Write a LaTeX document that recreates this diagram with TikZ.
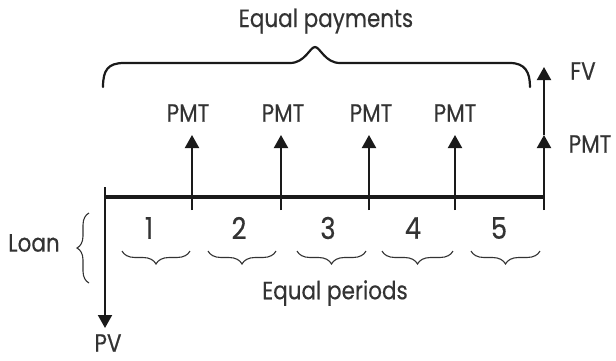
\documentclass[tikz,border=0pt]{standalone}
\usepackage{fontspec}
\setmainfont{Poppins}[FakeStretch=0.86,FakeBold=0.4]
\usetikzlibrary{arrows.meta,decorations.pathreplacing}
\definecolor{ink}{HTML}{1A1A1A}
\definecolor{txt}{HTML}{333333}
\begin{document}
\begin{tikzpicture}[x=1pt,y=-1pt,
  axisline/.style={line width=3.4pt, draw=ink},
  flow/.style={line width=2pt, draw=ink, -{Triangle[length=13pt,width=14pt]}},
  lbl/.style={font=\fontsize{25}{28}\selectfont, text=txt, inner sep=0pt},
  num/.style={font=\fontsize{30}{34}\selectfont, text=txt, inner sep=0pt},
  sbrace/.style={decorate, decoration={brace, amplitude=13pt, mirror}, line width=1.1pt, draw=txt},
  lbrace/.style={decorate, decoration={brace, amplitude=12pt}, line width=1.1pt, draw=txt},
  bigbrace/.style={line width=2.2pt, draw=ink, line cap=round}]
\useasboundingbox (0,0) rectangle (616,360);
\fill[white] (0,0) rectangle (616,360);

% timeline coordinates
\coordinate (t0) at (105,197);
\coordinate (t5) at (544,197);
\coordinate (lvtop) at (105,187);
\coordinate (pvtip) at (105,328);
\draw[axisline] (t0) -- (t5);
\draw[flow] (lvtop) -- (pvtip);
\node[lbl] (pv) at (108,343) {PV};

% PMT arrows
\foreach \i/\x/\lx in {1/192/188, 2/281/283, 3/369/371, 4/455/455}{
  \coordinate (b\i) at (\x,210);
  \coordinate (a\i) at (\x,135);
  \draw[flow] (b\i) -- (a\i);
  \node[lbl] (pmt\i) at (\lx,113) {PMT};
}

% right vertical
\coordinate (rb) at (544,210);
\coordinate (rm) at (544,135);
\coordinate (rt) at (544,67);
\draw[flow] (rb) -- (rm);
\draw[flow] (rm) -- (rt);
\node[lbl] (pmt5) at (590,144) {PMT};
\node[lbl] (fv) at (583,71) {FV};

% period numbers
\foreach \i/\x in {1/149, 2/239, 3/328, 4/413, 5/499}{
  \node[num] (n\i) at (\x,228) {\i};
}

% small braces
\foreach \i/\xa/\xb in {1/122/190, 2/208/276, 3/297/366, 4/382/453, 5/471/540}{
  \coordinate (sa\i) at (\xa,251);
  \coordinate (sb\i) at (\xb,251);
  \draw[sbrace] (sa\i) -- (sb\i);
}
\node[lbl] (periods) at (335,293) {Equal periods};

% loan brace
\coordinate (la) at (89,283);
\coordinate (lb) at (89,213);
\draw[lbrace] (la) -- (lb);
\node[lbl] (loan) at (34,243) {Loan};

% big brace
\coordinate (ba) at (103,87);
\coordinate (bz) at (530,87);
\draw[bigbrace] (ba) .. controls (103,70) and (108,63) .. (124,63) -- (290,63)
  .. controls (305,63) and (310,47) .. (315,47)
  .. controls (320,47) and (325,63) .. (340,63) -- (510,63)
  .. controls (525,63) and (530,72) .. (bz);
\node[lbl] (payments) at (326,21) {Equal payments};
\end{tikzpicture}
\end{document}
